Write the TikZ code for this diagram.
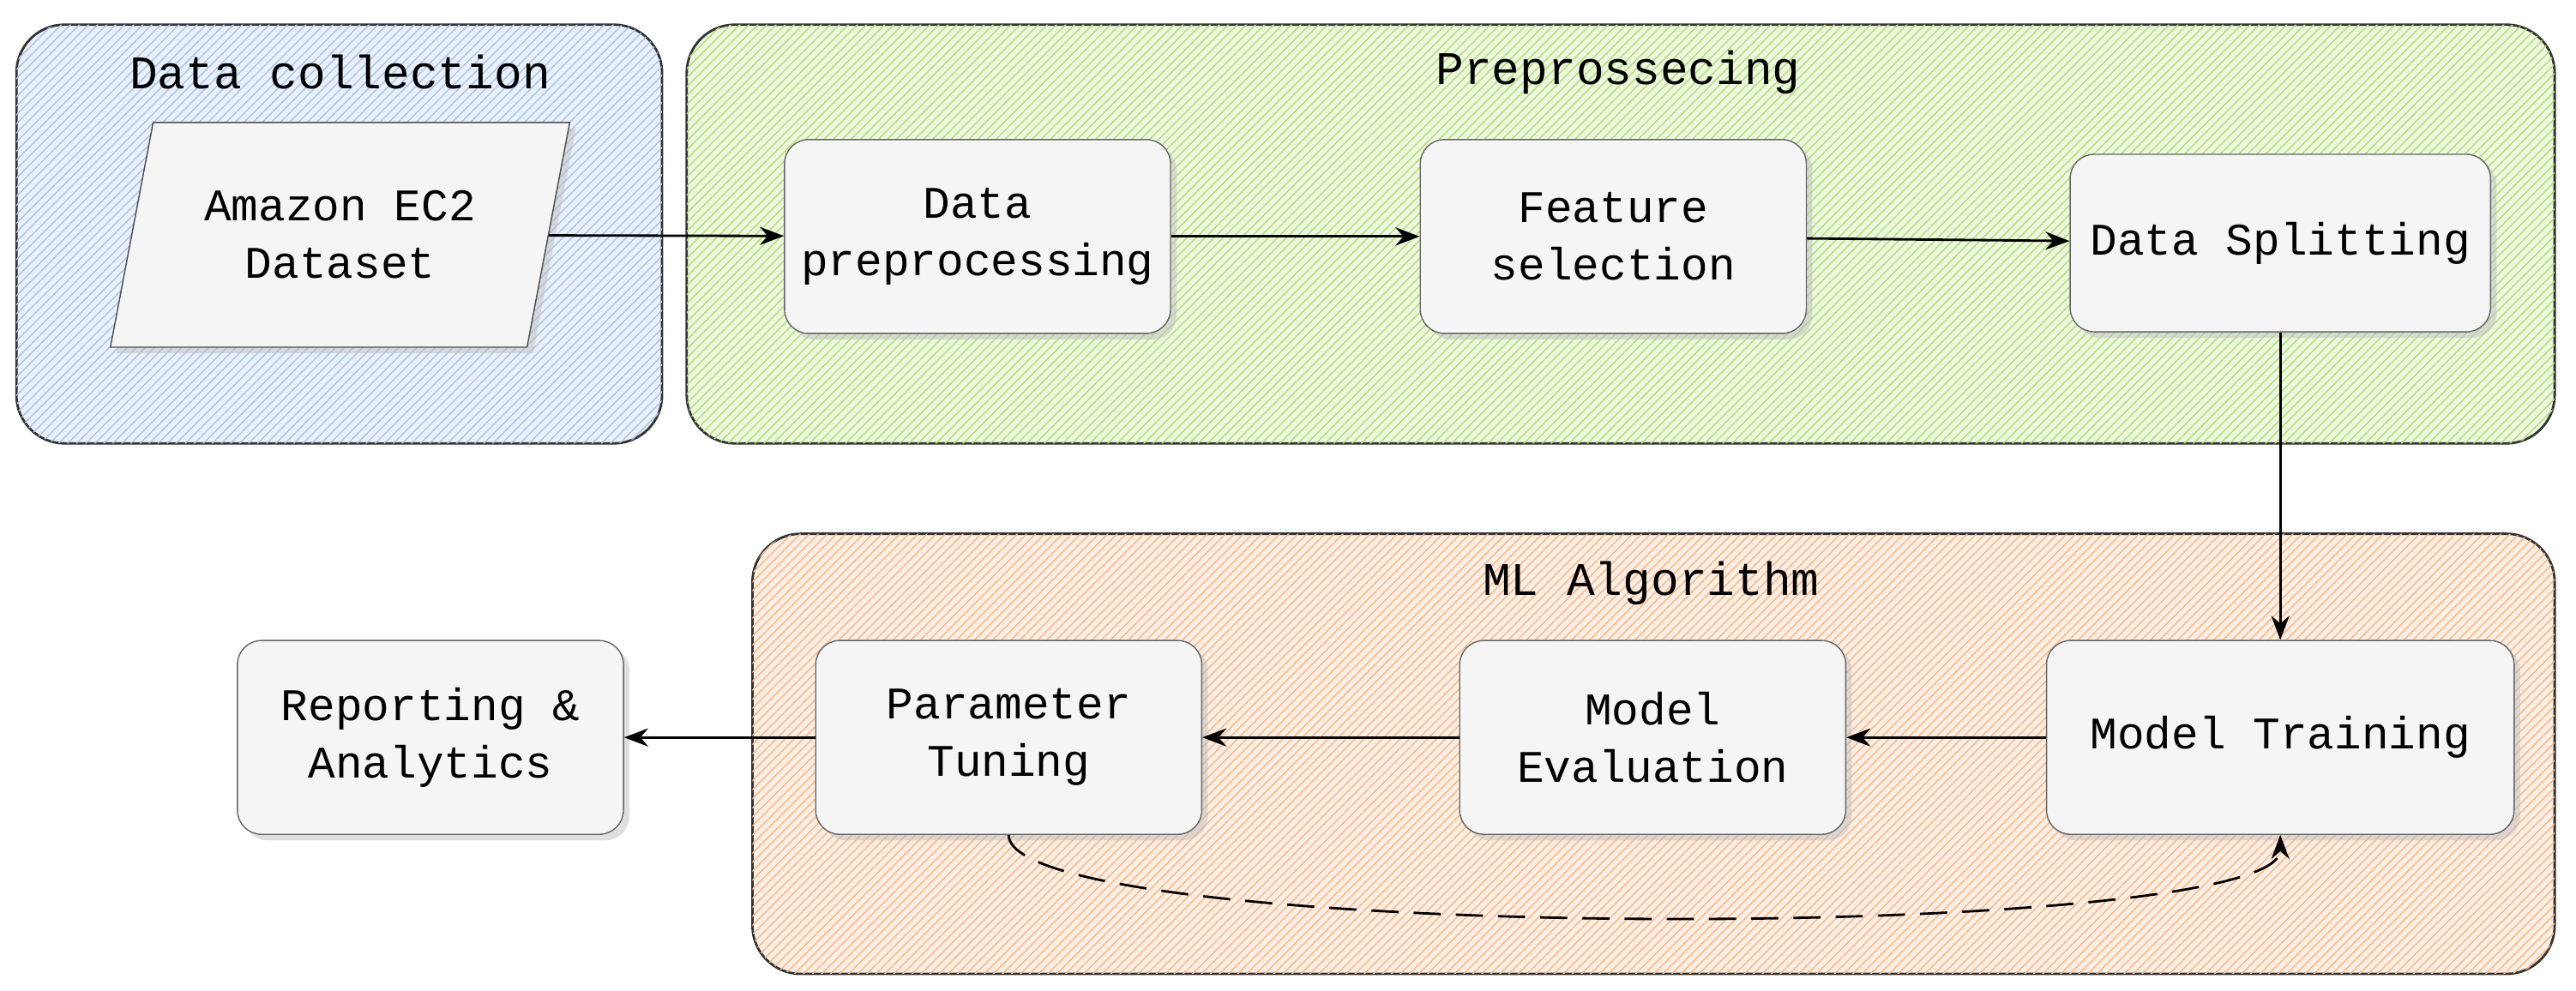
\documentclass[tikz,border=0pt]{standalone}
\usepackage{fontspec}
\setmainfont{Liberation Mono}
\usetikzlibrary{positioning,shapes.geometric,patterns,shadows,arrows.meta}
\definecolor{blueh}{HTML}{A9C4EB}
\definecolor{greenh}{HTML}{B3DE7A}
\definecolor{orangeh}{HTML}{F7B98A}
\begin{document}
\begin{tikzpicture}[
      x=0.019157cm, y=-0.019157cm,
      box/.style={rectangle, draw=black!60, fill=black!4, rounded corners=8pt, minimum width=4.5cm, minimum height=2.26cm, align=center, font=\fontsize{15}{19}\selectfont, drop shadow={shadow xshift=2pt, shadow yshift=-2pt, fill=black!25}},
      group/.style={rectangle, draw=black!80, thick, rounded corners=16pt},
      title/.style={font=\fontsize{15.5}{19}\selectfont},
      arr/.style={-{Stealth[length=8pt]}, thick}
    ]
      \useasboundingbox (0,0) rectangle (1568,603);
      % Data collection group
      \draw[group, fill=blueh!25, postaction={pattern=north east lines, pattern color=blueh}] (10,15) rectangle (403,270);
      \node[title] (dc_title) at (207,44) {Data collection};
      % Preprocessing group
      \draw[group, fill=greenh!25, postaction={pattern=north east lines, pattern color=greenh}] (418,15) rectangle (1555,270);
      \node[title] (pre_title) at (985,44) {Preprossecing};
      % ML group
      \draw[group, fill=orangeh!25, postaction={pattern=north east lines, pattern color=orangeh}] (458,325) rectangle (1555,593);
      \node[title] (ml_title) at (1005,355) {ML Algorithm};

      \node[trapezium, trapezium left angle=74, trapezium right angle=106, trapezium stretches=true, draw=black!70, fill=black!4, minimum width=5.36cm, minimum height=2.62cm, inner xsep=0pt, align=center, font=\fontsize{15}{19}\selectfont, drop shadow={shadow xshift=2pt, shadow yshift=-2pt, fill=black!25}] (dataset) at (207,143) {Amazon EC2\\Dataset};
      \node[box] (prep) at (595,144) {Data\\preprocessing};
      \node[box] (feat) at (982,144) {Feature\\selection};
      \node[box, minimum width=4.9cm, minimum height=2.07cm] (split) at (1388,148) {Data Splitting};
      \node[box, minimum width=5.45cm] (train) at (1388,449) {Model Training};
      \node[box] (eval) at (1006,449) {Model\\Evaluation};
      \node[box] (tune) at (614,449) {Parameter\\Tuning};
      \node[box] (report) at (262,449) {Reporting \&\\Analytics};

      \draw[arr] (dataset) -- (prep);
      \draw[arr] (prep) -- (feat);
      \draw[arr] (feat) -- (split);
      \draw[arr] (split) -- (train);
      \draw[arr] (train) -- (eval);
      \draw[arr] (eval) -- (tune);
      \draw[arr] (tune) -- (report);
      \draw[arr, dash pattern=on 9pt off 5pt] (tune.south) .. controls (614,575) and (1388,575) .. (train.south);
    \end{tikzpicture}
\end{document}
